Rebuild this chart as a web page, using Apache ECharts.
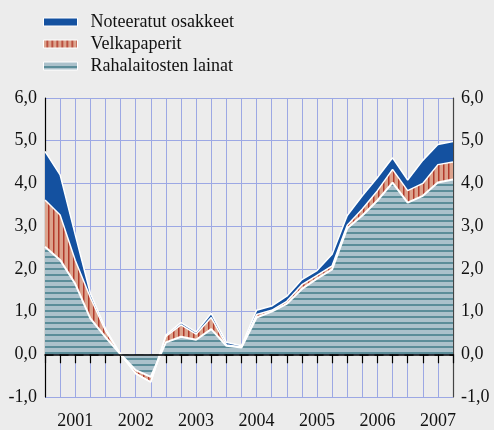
<!DOCTYPE html>
<html>
<head>
<meta charset="utf-8">
<script src="https://cdn.jsdelivr.net/npm/echarts@6/dist/echarts.min.js"></script>
<style>
  html, body { margin: 0; padding: 0; background: #ececec; }
  #main { width: 494px; height: 430px; }
</style>
</head>
<body>
<div id="main"></div>
<script>
// quarterly points, 2001 Q1 ... 2007 Q4
var quarters = [];
for (var y = 2001; y <= 2007; y++) {
  for (var q = 1; q <= 4; q++) quarters.push(y + 'Q' + q);
}

var rahalaitosten = [2.52, 2.21, 1.65, 0.84, 0.40, 0.00, -0.37, -0.53, 0.28, 0.41, 0.34, 0.59, 0.20, 0.16,
  0.86, 1.00, 1.18, 1.53, 1.77, 1.99, 2.95, 3.25, 3.60, 4.02, 3.55, 3.71, 4.02, 4.09];
var velkapaperit = [1.09, 1.05, 0.55, 0.49, 0.15, 0.00, -0.08, -0.12, 0.14, 0.28, 0.13, 0.27, 0.02, 0.01,
  0.07, 0.03, 0.06, 0.10, 0.08, 0.08, 0.07, 0.15, 0.23, 0.31, 0.28, 0.29, 0.42, 0.41];
var osakkeet = [1.14, 0.94, 0.60, 0.10, 0.05, 0.00, 0.00, 0.00, 0.03, 0.05, 0.05, 0.10, 0.06, 0.03,
  0.10, 0.10, 0.12, 0.12, 0.11, 0.27, 0.23, 0.31, 0.31, 0.27, 0.25, 0.54, 0.47, 0.48];

var yTicks = [-1, 0, 1, 2, 3, 4, 5, 6];

// fill patterns
function hatch(w, h, bg, fg, draw) {
  var c = document.createElement('canvas');
  c.width = w;
  c.height = h;
  var ctx = c.getContext('2d');
  ctx.fillStyle = bg;
  ctx.fillRect(0, 0, w, h);
  ctx.fillStyle = fg;
  draw(ctx);
  return { image: c, repeat: 'repeat' };
}
var rahaFill = hatch(6, 6, '#abc1cb', '#5b8d99', function (ctx) { ctx.fillRect(0, 4, 6, 2); });
var velkaFill = hatch(5, 5, '#dca38d', '#b23a2b', function (ctx) { ctx.fillRect(3, 0, 1.5, 5); });
var blue = '#1451a0';

var serif = '"Liberation Serif", "DejaVu Serif", serif';
var fmt = function (v) { return v.toFixed(1).replace('.', ','); };

var chart = echarts.init(document.getElementById('main'));

var option = {
  backgroundColor: '#ececec',
  animation: false,
  legend: {
    orient: 'vertical',
    left: 43,
    top: 13,
    padding: 0,
    itemWidth: 34,
    itemHeight: 8,
    itemGap: 4,
    textStyle: { fontFamily: serif, fontSize: 18, color: '#111', lineHeight: 18, padding: [0, 0, 0, 8] },
    data: [
      { name: 'Noteeratut osakkeet', icon: 'rect', itemStyle: { color: blue, borderColor: '#fff', borderWidth: 1 } },
      { name: 'Velkapaperit', icon: 'rect', itemStyle: { color: velkaFill, borderColor: '#fff', borderWidth: 1 } },
      { name: 'Rahalaitosten lainat', icon: 'rect', itemStyle: { color: rahaFill, borderColor: '#fff', borderWidth: 1 } }
    ]
  },
  grid: { left: 45, right: 41, top: 98, bottom: 30 },
  xAxis: {
    type: 'category',
    boundaryGap: false,
    data: quarters,
    axisLine: { lineStyle: { color: '#000', width: 1.5, type: [8, 7] } },
    axisTick: { interval: 0, length: 9, lineStyle: { color: '#000', width: 1.2 } },
    axisLabel: {
      interval: function (i) { return i % 4 === 2; },
      formatter: function (v) { return v.slice(0, 4); },
      fontFamily: serif, fontSize: 18, color: '#111', margin: 15
    },
    splitLine: { show: true, interval: 0, lineStyle: { color: '#9ca8e4', width: 1 } }
  },
  yAxis: [{
    type: 'value',
    min: yTicks[0],
    max: yTicks[yTicks.length - 1],
    interval: 1,
    axisLine: { show: true, lineStyle: { color: '#000', width: 1.2 } },
    axisTick: { show: false },
    axisLabel: { formatter: fmt, fontFamily: serif, fontSize: 18, color: '#111', margin: 8 },
    splitLine: { lineStyle: { color: '#9ca8e4', width: 1 } }
  }, {
    type: 'value',
    position: 'right',
    min: yTicks[0],
    max: yTicks[yTicks.length - 1],
    interval: 1,
    axisLine: { show: true, lineStyle: { color: '#444', width: 1.2 } },
    axisTick: { show: false },
    axisLabel: { formatter: fmt, fontFamily: serif, fontSize: 18, color: '#111', margin: 8 },
    splitLine: { show: false }
  }],
  series: [{
    name: 'Rahalaitosten lainat',
    type: 'line',
    stack: 'total',
    stackStrategy: 'samesign',
    data: rahalaitosten,
    symbol: 'none',
    lineStyle: { color: '#fff', width: 2 },
    itemStyle: { color: rahaFill },
    areaStyle: { color: rahaFill, opacity: 1 },
    markLine: {
      silent: true,
      symbol: 'none',
      label: { show: false },
      lineStyle: { color: '#000', width: 1.5, type: 'solid' },
      data: [{ yAxis: 0 }]
    }
  }, {
    name: 'Velkapaperit',
    type: 'line',
    stack: 'total',
    stackStrategy: 'samesign',
    data: velkapaperit,
    symbol: 'none',
    lineStyle: { color: '#fff', width: 1.5 },
    itemStyle: { color: velkaFill },
    areaStyle: { color: velkaFill, opacity: 1 }
  }, {
    name: 'Noteeratut osakkeet',
    type: 'line',
    stack: 'total',
    stackStrategy: 'samesign',
    data: osakkeet,
    symbol: 'none',
    lineStyle: { color: '#fff', width: 1.5 },
    itemStyle: { color: blue },
    areaStyle: { color: blue, opacity: 1 }
  }]
};

chart.setOption(option);
</script>
</body>
</html>
